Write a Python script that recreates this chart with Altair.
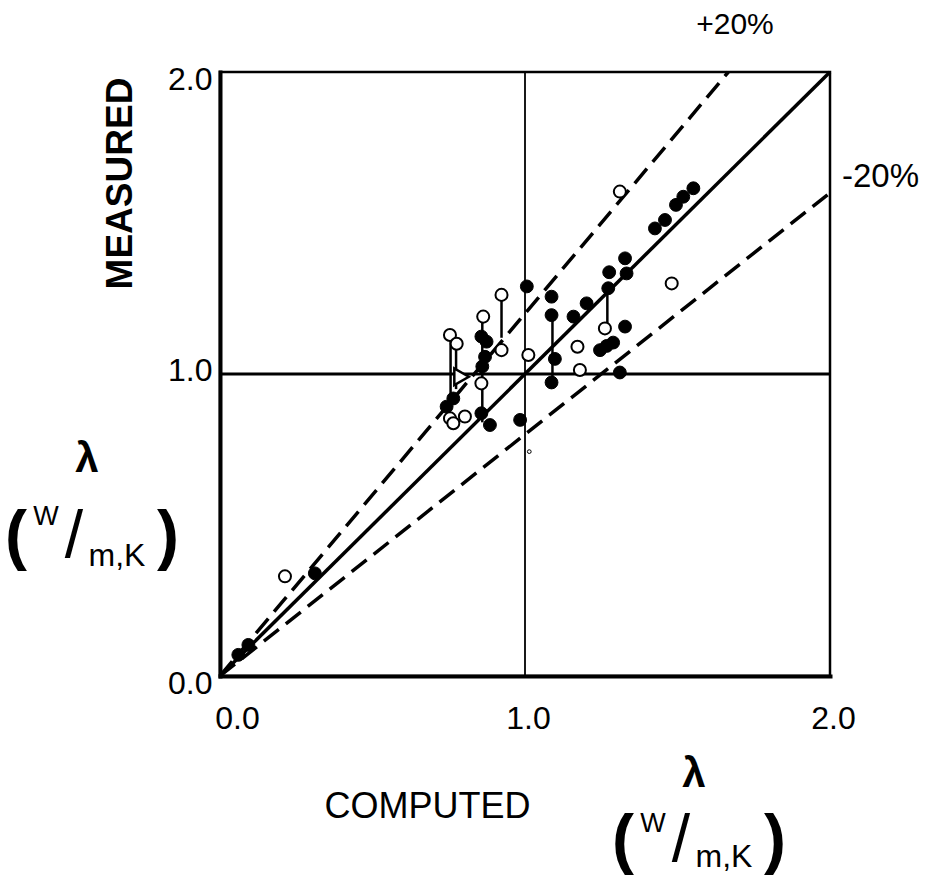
import altair as alt
import pandas as pd

# ---------------- data ----------------
filled_x = [1.006, 0.857, 0.874, 0.869, 0.860, 0.857, 0.885, 0.765, 0.743, 0.984,
            1.087, 1.087, 1.098, 1.087, 1.202, 1.159, 1.246, 1.268, 1.289, 1.276,
            1.273, 1.328, 1.333, 1.328, 1.311, 1.552, 1.519, 1.495, 1.459, 1.426,
            0.311, 0.093, 0.060]
filled_y = [1.290, 1.124, 1.107, 1.057, 1.025, 0.870, 0.831, 0.919, 0.892, 0.848,
            1.256, 1.195, 1.050, 0.972, 1.234, 1.190, 1.079, 1.093, 1.104, 1.337,
            1.284, 1.383, 1.333, 1.157, 1.005, 1.615, 1.587, 1.560, 1.510, 1.482,
            0.340, 0.103, 0.070]

open_x = [0.923, 0.923, 0.863, 0.857, 0.754, 0.776, 0.754, 0.765, 0.803, 1.011,
          1.172, 1.180, 1.262, 1.311, 1.481, 0.213]
open_y = [1.262, 1.079, 1.190, 0.969, 1.129, 1.100, 0.853, 0.837, 0.859, 1.063,
          1.090, 1.013, 1.151, 1.604, 1.300, 0.330]

tri_x = [0.792]
tri_y = [0.991]

tiny_x = [1.014]
tiny_y = [0.743]

seg_x = [0.923, 0.860, 0.756, 0.774, 1.090, 1.270]
seg_y1 = [1.262, 1.190, 1.129, 1.100, 1.195, 1.284]
seg_y2 = [1.120, 0.840, 0.920, 0.950, 0.972, 1.151]

# reference lines: 1:1, +20 %, -20 %, and the 1.0 cross
diag_x1, diag_y1, diag_x2, diag_y2 = [0.0], [0.0], [2.0], [2.0]
band_x1 = [0.0, 0.0]
band_y1 = [0.0, 0.0]
band_x2 = [2.0 / 1.2, 2.0]
band_y2 = [2.0, 1.6]
hline_y = [1.0]
vline_x = [1.0]

tick_values = [0.0, 1.0, 2.0]
axis_min, axis_max = 0.0, 2.0

x_title = "COMPUTED"
y_title = "MEASURED"
lam = "λ"
unit_open, unit_w, unit_slash, unit_mk, unit_close = "(", "W", "/", "m,K", ")"
plus_label = "+20%"
minus_label = "-20%"

FONT = "Liberation Sans"
W, H = 610, 604

xs = alt.Scale(domain=[axis_min, axis_max], nice=False, zero=False)
ys = alt.Scale(domain=[axis_min, axis_max], nice=False, zero=False)

x_axis = alt.Axis(values=tick_values, format=".1f", grid=False, ticks=False,
                  domain=True, domainWidth=4, domainColor="black",
                  labelFont=FONT, labelFontSize=32, labelColor="black",
                  labelPadding=27, labelFlush=False,
                  labelOffset={"condition": {"test": "datum.value === 0", "value": 17}, "value": 3},
                  title=x_title, titleFont=FONT, titleFontSize=36,
                  titleFontWeight="normal", titleColor="black",
                  titleX=207, titleY=130, titleBaseline="middle", titleAlign="center")
y_axis = alt.Axis(values=tick_values, format=".1f", grid=False, ticks=False,
                  domain=True, domainWidth=4, domainColor="black",
                  labelFont=FONT, labelFontSize=32, labelColor="black",
                  labelPadding=8, labelFlush=False,
                  labelOffset={"condition": {"test": "datum.value === 1", "value": -4}, "value": 7},
                  title=y_title, titleFont=FONT, titleFontSize=37,
                  titleFontWeight="bold", titleColor="black",
                  titleAngle=270, titleX=-100, titleY=111,
                  titleBaseline="middle", titleAlign="center")


def X(field="x"):
    return alt.X(f"{field}:Q", scale=xs, axis=x_axis)


def Y(field="y"):
    return alt.Y(f"{field}:Q", scale=ys, axis=y_axis)


layers = []

# 1:1 line
diag = alt.Chart(pd.DataFrame({"x": diag_x1, "y": diag_y1, "x2": diag_x2, "y2": diag_y2})).mark_rule(
    color="black", strokeWidth=3.5).encode(x=X(), y=Y(), x2="x2:Q", y2="y2:Q")
layers.append(diag)

# +/-20 % dashed lines
band = alt.Chart(pd.DataFrame({"x": band_x1, "y": band_y1, "x2": band_x2, "y2": band_y2})).mark_rule(
    color="black", strokeWidth=3.5, strokeDash=[19, 9]).encode(x=X(), y=Y(), x2="x2:Q", y2="y2:Q")
layers.append(band)

# cross at 1.0
hl = alt.Chart(pd.DataFrame({"y": hline_y})).mark_rule(color="black", strokeWidth=3).encode(y=Y())
vl = alt.Chart(pd.DataFrame({"x": vline_x})).mark_rule(color="black", strokeWidth=1.8).encode(x=X())
layers += [hl, vl]

# vertical connectors
segs = alt.Chart(pd.DataFrame({"x": seg_x, "y": seg_y1, "y2": seg_y2})).mark_rule(
    color="black", strokeWidth=2.5).encode(x=X(), y=Y(), y2="y2:Q")
layers.append(segs)

# markers
filled = alt.Chart(pd.DataFrame({"x": filled_x, "y": filled_y})).mark_point(
    shape="circle", filled=True, fill="black", stroke="black", strokeWidth=1,
    size=165, opacity=1).encode(x=X(), y=Y())
opn = alt.Chart(pd.DataFrame({"x": open_x, "y": open_y})).mark_point(
    shape="circle", filled=False, fill="white", fillOpacity=1, stroke="black",
    strokeWidth=2, size=145, opacity=1).encode(x=X(), y=Y())
tri = alt.Chart(pd.DataFrame({"x": tri_x, "y": tri_y})).mark_point(
    shape="triangle-right", filled=False, fill="white", fillOpacity=1, stroke="black",
    strokeWidth=2.5, size=280, opacity=1).encode(x=X(), y=Y())
tiny = alt.Chart(pd.DataFrame({"x": tiny_x, "y": tiny_y})).mark_point(
    shape="circle", filled=False, fill="white", fillOpacity=1, stroke="black",
    strokeWidth=1, size=14, opacity=1).encode(x=X(), y=Y())
layers += [filled, opn, tri, tiny]


def label(txt, px, py, size, weight="normal", align="center"):
    return alt.Chart(pd.DataFrame({"t": [txt]})).mark_text(
        font=FONT, fontSize=size, fontWeight=weight, align=align, baseline="middle",
        color="black").encode(text="t:N", x=alt.value(px), y=alt.value(py))


def unit_group(lx, ly, sx=1.0, sy=1.0):
    # lx, ly: centre of the lambda, relative to the plot origin
    return [
        label(lam, lx, ly, 42, "bold"),
        label(unit_open, lx - 71 * sx, ly + 78 * sy, 66, "bold"),
        label(unit_close, lx + 81 * sx, ly + 78 * sy, 66, "bold"),
        label(unit_w, lx - 41 * sx, ly + 58 * sy, 27),
        label(unit_slash, lx - 13 * sx, ly + 78 * sy, 66),
        label(unit_mk, lx + 30 * sx, ly + 97 * sy, 32),
    ]


layers += unit_group(-133, 387)
layers += unit_group(474, 702, sx=1.0, sy=0.86)
layers.append(label(plus_label, 515, -47, 30, "normal"))
layers.append(label(minus_label, 622, 105, 33, "normal", align="left"))

chart = alt.layer(*layers).properties(
    width=W, height=H,
    autosize=alt.AutoSizeParams(type="none"),
    padding={"left": 220, "top": 72, "right": 103, "bottom": 205},
    background="white",
).configure_view(stroke="black", strokeWidth=2.5).configure_axis(domainCap="square")

chart.save("out.html", embed_options={"renderer": "svg", "actions": False})
